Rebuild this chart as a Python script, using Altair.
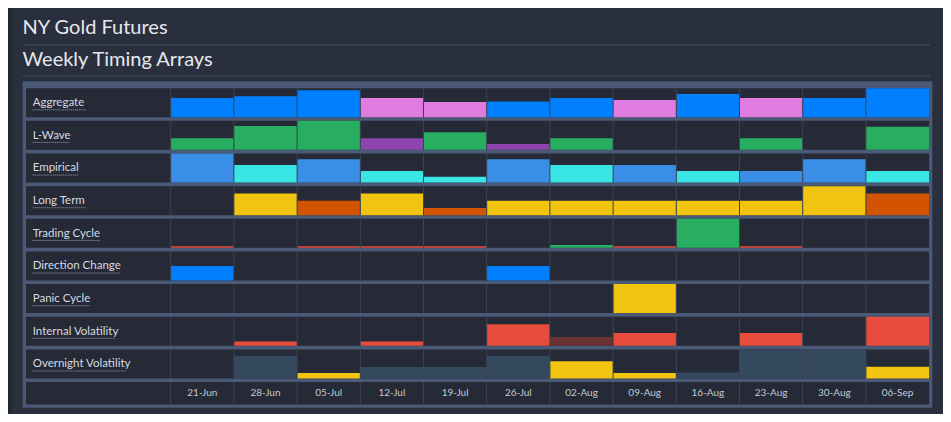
import altair as alt
import pandas as pd

# ---------------- data ----------------
dates = ["21-Jun", "28-Jun", "05-Jul", "12-Jul", "19-Jul", "26-Jul",
         "02-Aug", "09-Aug", "16-Aug", "23-Aug", "30-Aug", "06-Sep"]
row_names = ["Aggregate", "L-Wave", "Empirical", "Long Term", "Trading Cycle",
             "Direction Change", "Panic Cycle", "Internal Volatility",
             "Overnight Volatility"]

aggregate = [0.66, 0.72, 0.93, 0.66, 0.52, 0.54, 0.66, 0.59, 0.80, 0.66, 0.66, 1.00]
aggregate_c = ["blue", "blue", "blue", "pink", "pink", "blue", "blue", "pink", "blue", "pink", "blue", "blue"]
lwave = [0.40, 0.82, 1.00, 0.40, 0.61, 0.20, 0.40, 0, 0, 0.40, 0, 0.80]
lwave_c = ["green", "green", "green", "purple", "green", "purple", "green", "green", "green", "green", "green", "green"]
empirical = [1.0, 0.6, 0.8, 0.4, 0.2, 0.8, 0.6, 0.6, 0.4, 0.4, 0.8, 0.4]
empirical_c = ["lightblue", "cyan", "lightblue", "cyan", "cyan", "lightblue", "cyan", "lightblue", "cyan", "lightblue", "lightblue", "cyan"]
long_term = [0, 0.75, 0.5, 0.75, 0.25, 0.5, 0.5, 0.5, 0.5, 0.5, 1.0, 0.75]
long_term_c = ["yellow", "yellow", "orange", "yellow", "orange", "yellow", "yellow", "yellow", "yellow", "yellow", "yellow", "orange"]
trading = [0.05, 0, 0.05, 0.05, 0.05, 0, 0.1, 0.05, 1.0, 0.05, 0, 0]
trading_c = ["red", "red", "red", "red", "red", "red", "green", "red", "green", "red", "red", "red"]
direction = [0.5, 0, 0, 0, 0, 0.5, 0, 0, 0, 0, 0, 0]
direction_c = ["blue"] * 12
panic = [0, 0, 0, 0, 0, 0, 0, 1.0, 0, 0, 0, 0]
panic_c = ["yellow"] * 12
internal = [0, 0.15, 0, 0.15, 0, 0.74, 0.3, 0.44, 0, 0.44, 0, 1.0]
internal_c = ["red", "red", "red", "red", "red", "red", "darkred", "red", "red", "red", "red", "red"]
overnight = [0, 0.78, 0.19, 0.39, 0.39, 0.78, 0.59, 0.19, 0.2, 1.0, 1.0, 0.4]
overnight_c = ["slate", "slate", "yellow", "slate", "slate", "slate", "yellow", "yellow", "slate", "slate", "slate", "yellow"]

series_vals = [aggregate, lwave, empirical, long_term, trading, direction, panic, internal, overnight]
series_cols = [aggregate_c, lwave_c, empirical_c, long_term_c, trading_c, direction_c, panic_c, internal_c, overnight_c]

color_keys = ["blue", "pink", "green", "purple", "lightblue", "cyan", "yellow", "orange", "red", "darkred", "slate"]
color_hex = ["#0080ff", "#e07be0", "#27ae60", "#8e44ad", "#3a8ee6", "#3ae5e6", "#f1c40f", "#d35400", "#e74c3c", "#6b3434", "#34495e"]

# ---------------- layout / style ----------------
W, H = 935, 406
ROW_PITCH = 32.65
CELL = 29.0 / ROW_PITCH          # cell height in row units
DATE_CELL = 22.5 / ROW_PITCH
COL_W = 63.2
X0 = 162.7                       # left of first data column (px)
LABEL_X = (24.7 - X0) / COL_W    # label x in column units
underline_px = [53.3, 36.7, 45.7, 53.3, 68, 87.7, 57.7, 82.3, 94]

PANEL = "#2a2f3e"
OUTER = "#222734"
CELLBG = "#252a36"
FRAME = "#4a5976"
VLINE = "#3a4356"
FONT = "Lato"

xs = alt.Scale(domain=[0, 12], range=[X0, X0 + 12 * COL_W])
ys = alt.Scale(domain=[0, 9], range=[80.2, 80.2 + 9 * ROW_PITCH])

# ---------------- tables ----------------
bars = []
for i, (vals, cols) in enumerate(zip(series_vals, series_cols)):
    for j, (v, c) in enumerate(zip(vals, cols)):
        if v > 0:
            bot = i + CELL
            bars.append({"row": row_names[i], "date": dates[j], "value": v,
                         "x": j, "x2": j + 1, "y": bot - v * CELL, "y2": bot, "c": c})
df_bars = pd.DataFrame(bars)

rows = [{"top": i, "bot": i + (CELL if i < 9 else DATE_CELL)} for i in range(10)]
df_rows = pd.DataFrame(rows)

vl = []
for r in rows:
    for j in range(12):
        vl.append({"x": j, "top": r["top"], "bot": r["bot"]})
df_vl = pd.DataFrame(vl)

df_labels = pd.DataFrame({
    "name": row_names,
    "x": [LABEL_X] * 9,
    "y": [i + 17.8 / ROW_PITCH for i in range(9)],
    "ux": [LABEL_X] * 9,
    "ux2": [LABEL_X + w / COL_W for w in underline_px],
    "uy": [i + 21.6 / ROW_PITCH for i in range(9)],
})

df_dates = pd.DataFrame({"date": dates, "x": [j + 0.5 for j in range(12)],
                         "y": [9 + 13.7 / ROW_PITCH] * 12})

one = pd.DataFrame({"a": [0]})

# ---------------- layers ----------------
left_strip = alt.Chart(one).mark_rect(color=OUTER).encode(
    x=alt.value(0), x2=alt.value(3.7), y=alt.value(0), y2=alt.value(H))

frame = alt.Chart(one).mark_rect(color=FRAME).encode(
    x=alt.value(14.7), x2=alt.value(924.3), y=alt.value(73.3), y2=alt.value(399.7))

title_lines = alt.Chart(pd.DataFrame({"yy": [37, 68]})).mark_rule(color="#3b4458", strokeWidth=1.5).encode(
    x=alt.value(14.7), x2=alt.value(922), y=alt.Y("yy:Q", scale=None))

titles = alt.Chart(pd.DataFrame({"t": ["NY Gold Futures", "Weekly Timing Arrays"], "yy": [26, 58]})).mark_text(
    align="left", baseline="alphabetic", font=FONT, fontSize=20, color="#e6e8ee").encode(
    x=alt.value(14.5), y=alt.Y("yy:Q", scale=None), text="t:N")

row_bg = alt.Chart(df_rows).mark_rect(color=CELLBG).encode(
    x=alt.value(18), x2=alt.value(X0 + 12 * COL_W),
    y=alt.Y("top:Q", scale=ys, axis=None), y2="bot:Q")

bar_layer = alt.Chart(df_bars).mark_rect().encode(
    x=alt.X("x:Q", scale=xs, axis=None), x2="x2:Q",
    y=alt.Y("y:Q", scale=ys, axis=None), y2="y2:Q",
    color=alt.Color("c:N", scale=alt.Scale(domain=color_keys, range=color_hex), legend=None),
    tooltip=["row:N", "date:N", "value:Q"])

vlines = alt.Chart(df_vl).mark_rule(color=VLINE, strokeWidth=1).encode(
    x=alt.X("x:Q", scale=xs, axis=None),
    y=alt.Y("top:Q", scale=ys, axis=None), y2="bot:Q")

labels = alt.Chart(df_labels).mark_text(
    align="left", baseline="alphabetic", font=FONT, fontSize=11.5, color="#d6dae2").encode(
    x=alt.X("x:Q", scale=xs, axis=None), y=alt.Y("y:Q", scale=ys, axis=None), text="name:N")

underlines = alt.Chart(df_labels).mark_rule(color="#9aa2b3", strokeWidth=1, strokeDash=[1, 1]).encode(
    x=alt.X("ux:Q", scale=xs, axis=None), x2="ux2:Q", y=alt.Y("uy:Q", scale=ys, axis=None))

date_labels = alt.Chart(df_dates).mark_text(
    align="center", baseline="alphabetic", font=FONT, fontSize=10, color="#c4c9d3").encode(
    x=alt.X("x:Q", scale=xs, axis=None), y=alt.Y("y:Q", scale=ys, axis=None), text="date:N")

chart = alt.layer(
    left_strip, frame, title_lines, titles, row_bg, bar_layer, vlines, labels, underlines, date_labels
).properties(
    width=W, height=H, padding=0, background=PANEL
).configure_view(stroke=None)

chart.save("out.html", embed_options={"renderer": "svg", "actions": False})
